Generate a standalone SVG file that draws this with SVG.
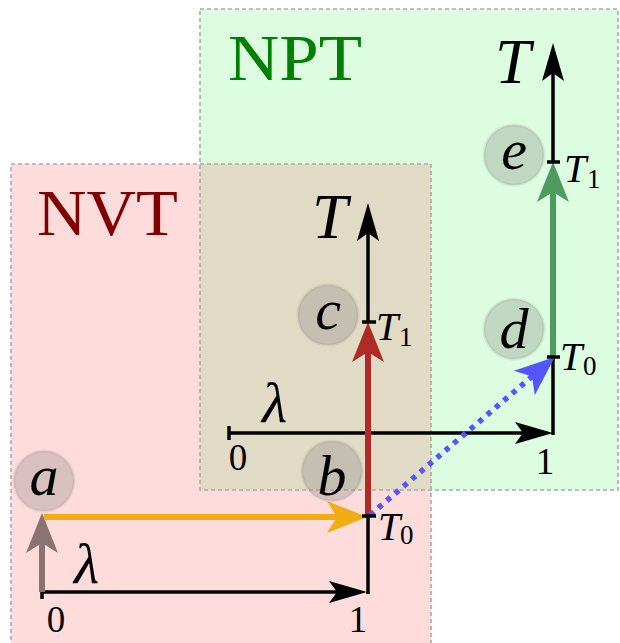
<svg xmlns="http://www.w3.org/2000/svg" width="620" height="643" viewBox="0 0 620 643">
<style>
.border{fill:none;stroke:#aaaaaa;stroke-width:1.6;stroke-dasharray:4 3}
.ax{stroke:#000;stroke-width:3.5;fill:none}
.tick{stroke:#000;stroke-width:3.5}
.node circle{fill:#808080;fill-opacity:0.3;stroke:#808080;stroke-opacity:0.15;stroke-width:3}
.m{font-family:"Liberation Serif","DejaVu Serif",serif;font-style:italic;fill:#000}
.r{font-family:"Liberation Serif","DejaVu Serif",serif;fill:#000}
.big{font-family:"Liberation Serif","DejaVu Serif",serif;font-size:66px}
</style>
<defs>
<marker id="hk" markerUnits="userSpaceOnUse" orient="auto" markerWidth="60" markerHeight="40" refX="8" refY="0" viewBox="-2 -20 60 40" overflow="visible"><path d="M0,-11 L38,0 L0,11 L8,0 z" fill="#000"/></marker>
<marker id="ho" markerUnits="userSpaceOnUse" orient="auto" markerWidth="60" markerHeight="40" refX="10" refY="0" viewBox="-2 -20 60 40" overflow="visible"><path d="M0,-16 L40,0 L0,16 L10,0 z" fill="#f0ad14"/></marker>
<marker id="hr" markerUnits="userSpaceOnUse" orient="auto" markerWidth="60" markerHeight="40" refX="10" refY="0" viewBox="-2 -20 60 40" overflow="visible"><path d="M0,-16 L40,0 L0,16 L10,0 z" fill="#b22a25"/></marker>
<marker id="hg" markerUnits="userSpaceOnUse" orient="auto" markerWidth="60" markerHeight="40" refX="10" refY="0" viewBox="-2 -20 60 40" overflow="visible"><path d="M0,-16 L40,0 L0,16 L10,0 z" fill="#4f9a5e"/></marker>
<marker id="hb" markerUnits="userSpaceOnUse" orient="auto" markerWidth="60" markerHeight="40" refX="10" refY="0" viewBox="-2 -20 60 40" overflow="visible"><path d="M0,-16 L40,0 L0,16 L10,0 z" fill="#5555ff"/></marker>
<marker id="hn" markerUnits="userSpaceOnUse" orient="auto" markerWidth="60" markerHeight="40" refX="10" refY="0" viewBox="-2 -20 60 40" overflow="visible"><path d="M0,-16 L40,0 L0,16 L10,0 z" fill="#8c7373"/></marker>
</defs>

<g id="regions">
<rect x="200" y="9" width="418" height="481" fill="#dcfddf"/>
<rect x="11" y="164" width="420" height="490" fill="#ffdcdc"/>
<rect x="200" y="164" width="231" height="326" fill="#e1dac4"/>
<rect class="border" x="200" y="9" width="418" height="481"/>
<rect class="border" x="11" y="164" width="420" height="490"/>
<text class="big" x="37" y="235" fill="#800000" textLength="141" lengthAdjust="spacingAndGlyphs">NVT</text>
<text class="big" x="228" y="80" fill="#008000" textLength="134" lengthAdjust="spacingAndGlyphs">NPT</text>
</g>

<g id="axes">
<line class="ax" x1="42" y1="592" x2="337" y2="592" marker-end="url(#hk)"/>
<line class="tick" x1="42" y1="585" x2="42" y2="599"/>
<line class="ax" x1="368" y1="594" x2="368" y2="516"/>
<line class="ax" x1="368" y1="322" x2="368" y2="233" marker-end="url(#hk)"/>
<text class="r" x="56" y="632" font-size="37" text-anchor="middle">0</text>
<text class="r" x="358" y="632" font-size="37" text-anchor="middle">1</text>
<text class="m" x="74" y="583" font-size="58">λ</text>
<text class="m" x="312" y="238" font-size="64">T</text>

<line class="ax" x1="229" y1="433" x2="523" y2="433" marker-end="url(#hk)"/>
<line class="tick" x1="229" y1="426" x2="229" y2="440"/>
<line class="ax" x1="553" y1="435" x2="553" y2="357"/>
<line class="ax" x1="553" y1="162" x2="553" y2="73" marker-end="url(#hk)"/>
<text class="r" x="238" y="470" font-size="37" text-anchor="middle">0</text>
<text class="r" x="545" y="474" font-size="37" text-anchor="middle">1</text>
<text class="m" x="262" y="422" font-size="58">λ</text>
<text class="m" x="495" y="83" font-size="64">T</text>
</g>

<g id="connectors">
<line x1="42" y1="592" x2="42" y2="543" stroke="#8c7373" stroke-width="6" marker-end="url(#hn)"/>
<line x1="44" y1="517" x2="337" y2="517" stroke="#f0ad14" stroke-width="6" marker-end="url(#ho)"/>
<line x1="368" y1="516" x2="368" y2="352" stroke="#b22a25" stroke-width="6" marker-end="url(#hr)"/>
<line x1="553" y1="357" x2="553" y2="192" stroke="#4f9a5e" stroke-width="6" marker-end="url(#hg)"/>
<line x1="370" y1="515" x2="532" y2="376.5" stroke="#5555ff" stroke-width="5.5" stroke-dasharray="5 6" marker-end="url(#hb)"/>
</g>

<g id="ticks">
<line class="tick" x1="362" y1="516" x2="376" y2="516"/>
<line class="tick" x1="362" y1="322" x2="376" y2="322"/>
<line class="tick" x1="547" y1="357" x2="560" y2="357"/>
<line class="tick" x1="547" y1="162" x2="560" y2="162"/>
<text class="m" x="378" y="540" font-size="40">T</text><text class="r" x="400" y="544" font-size="27">0</text>
<text class="m" x="376" y="340" font-size="40">T</text><text class="r" x="399" y="346" font-size="27">1</text>
<text class="m" x="560" y="370" font-size="40">T</text><text class="r" x="583" y="375" font-size="27">0</text>
<text class="m" x="564" y="182" font-size="40">T</text><text class="r" x="587" y="188" font-size="27">1</text>
</g>

<g id="node-a" class="node"><circle cx="44" cy="481" r="30"/><text class="m" x="44" y="495" font-size="58" text-anchor="middle">a</text></g>
<g id="node-b" class="node"><circle cx="332" cy="471" r="30"/><text class="m" x="332" y="495" font-size="58" text-anchor="middle">b</text></g>
<g id="node-c" class="node"><circle cx="328" cy="315" r="30"/><text class="m" x="328" y="329" font-size="58" text-anchor="middle">c</text></g>
<g id="node-d" class="node"><circle cx="514" cy="329" r="30"/><text class="m" x="514" y="348" font-size="58" text-anchor="middle">d</text></g>
<g id="node-e" class="node"><circle cx="514" cy="155" r="30"/><text class="m" x="514" y="169" font-size="58" text-anchor="middle">e</text></g>
</svg>
